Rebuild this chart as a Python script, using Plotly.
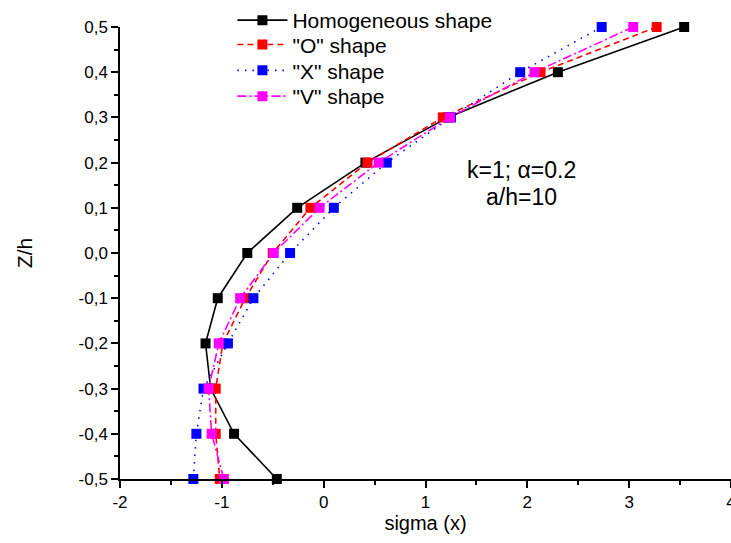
import plotly.graph_objects as go

z = [0.5, 0.4, 0.3, 0.2, 0.1, 0.0, -0.1, -0.2, -0.3, -0.4, -0.5]
homogeneous = [3.54, 2.30, 1.22, 0.41, -0.26, -0.75, -1.04, -1.16, -1.11, -0.88, -0.46]
o_shape = [3.27, 2.13, 1.17, 0.43, -0.13, -0.50, -0.77, -0.99, -1.06, -1.06, -1.02]
x_shape = [2.73, 1.93, 1.25, 0.62, 0.10, -0.33, -0.69, -0.94, -1.18, -1.25, -1.28]
v_shape = [3.04, 2.07, 1.24, 0.54, -0.04, -0.49, -0.82, -1.03, -1.13, -1.10, -0.98]

x_ticks = [-2, -1, 0, 1, 2, 3, 4]
y_ticks = [0.5, 0.4, 0.3, 0.2, 0.1, 0.0, -0.1, -0.2, -0.3, -0.4, -0.5]
y_labels = [f"{v:.1f}".replace(".", ",") for v in y_ticks]

FONT = "Liberation Sans, Arial, sans-serif"

series = [
    ("Homogeneous shape", homogeneous, "black", "solid"),
    ('"O" shape', o_shape, "red", "6px,4px"),
    ('"X" shape', x_shape, "blue", "1.5px,6px"),
    ('"V" shape', v_shape, "magenta", "9px,3px,2px,3px"),
]
legend_ids = ["legend", "legend2", "legend3", "legend4"]
legend_rows_y = [1.0154, 0.9604, 0.9033, 0.8462]

fig = go.Figure()
for (name, xs, color, dash), lid in zip(series, legend_ids):
    fig.add_trace(go.Scatter(
        x=xs, y=z, name=name, mode="lines+markers",
        line=dict(color=color, width=1.6, dash=dash),
        marker=dict(symbol="square", size=10, color=color),
        cliponaxis=False, legend=lid,
    ))

fig.add_annotation(
    x=1.94, y=0.184, xref="x", yref="y",
    text="k=1; α=0.2", showarrow=False,
    font=dict(family=FONT, size=23, color="black"),
)
fig.add_annotation(
    x=1.94, y=0.124, xref="x", yref="y",
    text="a/h=10", showarrow=False,
    font=dict(family=FONT, size=23, color="black"),
)

legend_common = dict(
    x=0.184, xanchor="left", yanchor="middle",
    bgcolor="rgba(0,0,0,0)", font=dict(family=FONT, size=21),
    itemwidth=50,
)
layout_legends = {lid: dict(legend_common, y=yy) for lid, yy in zip(legend_ids, legend_rows_y)}

fig.update_layout(
    width=731, height=543,
    margin=dict(l=120, r=0, t=24, b=64),
    paper_bgcolor="white", plot_bgcolor="white",
    font=dict(family=FONT, color="black"),
    showlegend=True,
    **layout_legends,
    xaxis=dict(
        range=[-2, 4], tickvals=x_ticks, ticktext=[str(v) for v in x_ticks],
        automargin=False, ticklabeloverflow="allow",
        showgrid=False, zeroline=False, showline=True, linecolor="black", linewidth=1.5,
        ticks="outside", ticklen=7, tickwidth=1.5, tickcolor="black",
        minor=dict(dtick=0.5, ticks="outside", ticklen=4, tickwidth=1.5, tickcolor="black", showgrid=False),
        tickfont=dict(family=FONT, size=17),
        title=dict(text="sigma (x)", font=dict(family=FONT, size=20), standoff=0),
    ),
    yaxis=dict(
        range=[-0.5, 0.5], tickvals=y_ticks, ticktext=y_labels,
        automargin=False, ticklabeloverflow="allow",
        showgrid=False, zeroline=False, showline=True, linecolor="black", linewidth=1.5,
        ticks="outside", ticklen=7, tickwidth=1.5, tickcolor="black",
        minor=dict(dtick=0.05, ticks="outside", ticklen=4, tickwidth=1.5, tickcolor="black", showgrid=False),
        tickfont=dict(family=FONT, size=17),
        title=dict(text="Z/h", font=dict(family=FONT, size=21), standoff=40),
    ),
)

fig.write_html(
    "out.html",
    config={"responsive": False, "displayModeBar": False},
    post_script="document.body.style.margin='0';document.body.style.padding='0';",
)
